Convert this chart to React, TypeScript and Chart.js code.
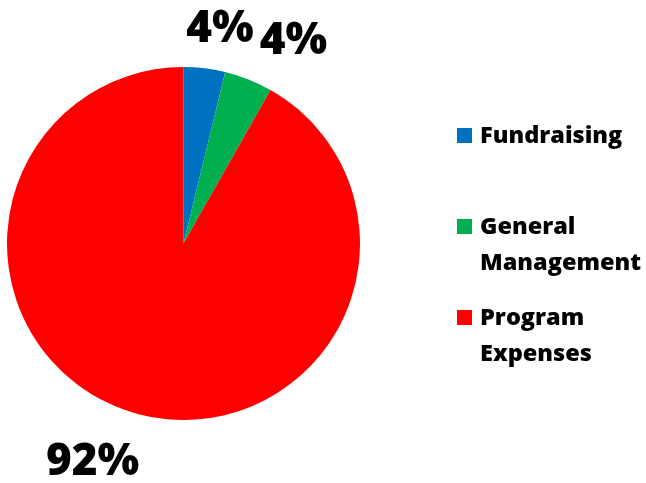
import React, { useEffect, useRef } from "react";
import { Chart, registerables } from "chart.js";

Chart.register(...registerables);

const categories = ["Fundraising", "General Management", "Program Expenses"];
const values = [3.8, 4.4, 91.8];
const colors = ["#0070C0", "#00B050", "#FF0000"];

const FONT = "'Open Sans', 'DejaVu Sans', sans-serif";

const labelPlugin = {
  id: "pctLabels",
  afterDraw(chart: any) {
    const ctx = chart.ctx as CanvasRenderingContext2D;
    const meta = chart.getDatasetMeta(0);
    const data = chart.data.datasets[0].data as number[];
    const total = data.reduce((a, b) => a + b, 0);
    const angleNudge = [2.7, 6.6, 8.1];
    const radial = [1.247, 1.318, 1.325];
    ctx.save();
    ctx.font = `800 44px ${FONT}`;
    ctx.fillStyle = "#000";
    ctx.textAlign = "center";
    ctx.textBaseline = "alphabetic";
    meta.data.forEach((arc: any, i: number) => {
      const { x, y, startAngle, endAngle, outerRadius } = arc.getProps(
        ["x", "y", "startAngle", "endAngle", "outerRadius"],
        true
      );
      const mid = (startAngle + endAngle) / 2 + (angleNudge[i] * Math.PI) / 180;
      const d = outerRadius * radial[i];
      const lx = x + Math.cos(mid) * d;
      const ly = y + Math.sin(mid) * d;
      const pct = Math.round((data[i] / total) * 100);
      ctx.fillText(`${pct}%`, lx, ly + 16);
    });
    ctx.restore();

    // legend
    ctx.save();
    ctx.font = `800 23.5px ${FONT}`;
    ctx.textAlign = "left";
    ctx.textBaseline = "alphabetic";
    const labels = chart.data.labels as string[];
    const bg = chart.data.datasets[0].backgroundColor as string[];
    const textX = 480;
    const boxX = 457;
    const boxSize = 15;
    const firstBase = 143;
    const step = 91;
    const lineH = 36;
    labels.forEach((lab, i) => {
      const words = lab.split(" ");
      const lines: string[] = [];
      let cur = "";
      words.forEach((w) => {
        const t = cur ? cur + " " + w : w;
        if (cur && ctx.measureText(t).width > 165) {
          lines.push(cur);
          cur = w;
        } else cur = t;
      });
      if (cur) lines.push(cur);
      const base = firstBase + step * i;
      ctx.fillStyle = bg[i];
      ctx.fillRect(boxX, base - boxSize, boxSize, boxSize);
      ctx.fillStyle = "#000";
      lines.forEach((ln, j) => ctx.fillText(ln, textX, base + j * lineH));
    });
    ctx.restore();
  },
};

export default function App() {
  const ref = useRef<HTMLCanvasElement | null>(null);
  useEffect(() => {
    document.body.style.margin = "0";
    const chart = new Chart(ref.current as HTMLCanvasElement, {
      type: "pie",
      data: {
        labels: categories,
        datasets: [
          {
            data: values,
            backgroundColor: colors,
            borderWidth: 0,
            hoverOffset: 0,
          },
        ],
      },
      options: {
        animation: false,
        responsive: false,
        maintainAspectRatio: false,
        layout: { padding: { left: 7, top: 67, right: 286, bottom: 63 } },
        plugins: {
          legend: { display: false },
          tooltip: { enabled: false },
        },
      },
      plugins: [labelPlugin],
    });
    return () => chart.destroy();
  }, []);
  return (
    <div style={{ width: 646, height: 483, position: "relative", background: "#fff" }}>
      <canvas ref={ref} width={646} height={483} style={{ width: 646, height: 483 }} />
    </div>
  );
}
